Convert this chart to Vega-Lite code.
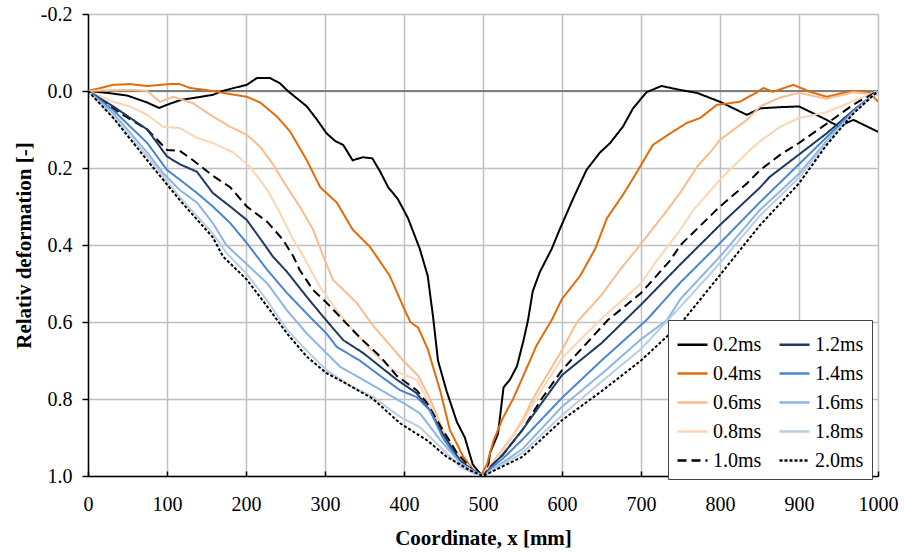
{
"$schema":"https://vega.github.io/schema/vega-lite/v6.json",
"width":790,"height":462,
"autosize":{"type":"none"},
"padding":{"left":88,"top":14,"right":26,"bottom":76},
"background":"white",
"config":{"view":{"stroke":null},"font":"'Liberation Serif', 'Times New Roman', serif"},
"datasets":{"d":[
{"t":"0.2ms","x":0,"y":0},{"t":"0.2ms","x":25,"y":0.005},{"t":"0.2ms","x":50,"y":0.012},{"t":"0.2ms","x":75,"y":0.03},{"t":"0.2ms","x":90,"y":0.044},{"t":"0.2ms","x":105,"y":0.032},{"t":"0.2ms","x":118,"y":0.023},{"t":"0.2ms","x":140,"y":0.016},{"t":"0.2ms","x":158,"y":0.01},{"t":"0.2ms","x":170,"y":0.0},{"t":"0.2ms","x":185,"y":-0.008},{"t":"0.2ms","x":201,"y":-0.016},{"t":"0.2ms","x":214,"y":-0.034},{"t":"0.2ms","x":230,"y":-0.034},{"t":"0.2ms","x":243,"y":-0.02},{"t":"0.2ms","x":253,"y":0.0},{"t":"0.2ms","x":265,"y":0.02},{"t":"0.2ms","x":277,"y":0.04},{"t":"0.2ms","x":290,"y":0.075},{"t":"0.2ms","x":302,"y":0.11},{"t":"0.2ms","x":313,"y":0.13},{"t":"0.2ms","x":323,"y":0.14},{"t":"0.2ms","x":335,"y":0.18},{"t":"0.2ms","x":348,"y":0.172},{"t":"0.2ms","x":360,"y":0.175},{"t":"0.2ms","x":370,"y":0.21},{"t":"0.2ms","x":380,"y":0.25},{"t":"0.2ms","x":392,"y":0.28},{"t":"0.2ms","x":405,"y":0.33},{"t":"0.2ms","x":420,"y":0.41},{"t":"0.2ms","x":430,"y":0.48},{"t":"0.2ms","x":437,"y":0.59},{"t":"0.2ms","x":443,"y":0.70},{"t":"0.2ms","x":454,"y":0.78},{"t":"0.2ms","x":467,"y":0.86},{"t":"0.2ms","x":477,"y":0.90},{"t":"0.2ms","x":487,"y":0.97},{"t":"0.2ms","x":499,"y":1.0},{"t":"0.2ms","x":505,"y":0.995},{"t":"0.2ms","x":509,"y":0.94},{"t":"0.2ms","x":519,"y":0.89},{"t":"0.2ms","x":526,"y":0.77},{"t":"0.2ms","x":534,"y":0.75},{"t":"0.2ms","x":543,"y":0.715},{"t":"0.2ms","x":551,"y":0.65},{"t":"0.2ms","x":557,"y":0.595},{"t":"0.2ms","x":563,"y":0.52},{"t":"0.2ms","x":572,"y":0.47},{"t":"0.2ms","x":587,"y":0.41},{"t":"0.2ms","x":597,"y":0.36},{"t":"0.2ms","x":614,"y":0.28},{"t":"0.2ms","x":631,"y":0.205},{"t":"0.2ms","x":648,"y":0.16},{"t":"0.2ms","x":661,"y":0.135},{"t":"0.2ms","x":677,"y":0.093},{"t":"0.2ms","x":690,"y":0.045},{"t":"0.2ms","x":707,"y":0.003},{"t":"0.2ms","x":726,"y":-0.013},{"t":"0.2ms","x":749,"y":-0.003},{"t":"0.2ms","x":771,"y":0.005},{"t":"0.2ms","x":800,"y":0.028},{"t":"0.2ms","x":834,"y":0.062},{"t":"0.2ms","x":851,"y":0.045},{"t":"0.2ms","x":876,"y":0.042},{"t":"0.2ms","x":900,"y":0.04},{"t":"0.2ms","x":918,"y":0.058},{"t":"0.2ms","x":935,"y":0.075},{"t":"0.2ms","x":950,"y":0.092},{"t":"0.2ms","x":969,"y":0.075},{"t":"0.2ms","x":1000,"y":0.106},
{"t":"0.4ms","x":0,"y":0},{"t":"0.4ms","x":32,"y":-0.016},{"t":"0.4ms","x":53,"y":-0.018},{"t":"0.4ms","x":75,"y":-0.013},{"t":"0.4ms","x":104,"y":-0.018},{"t":"0.4ms","x":116,"y":-0.018},{"t":"0.4ms","x":129,"y":-0.008},{"t":"0.4ms","x":158,"y":0.0},{"t":"0.4ms","x":180,"y":0.008},{"t":"0.4ms","x":201,"y":0.015},{"t":"0.4ms","x":218,"y":0.03},{"t":"0.4ms","x":239,"y":0.066},{"t":"0.4ms","x":256,"y":0.106},{"t":"0.4ms","x":277,"y":0.18},{"t":"0.4ms","x":294,"y":0.25},{"t":"0.4ms","x":315,"y":0.29},{"t":"0.4ms","x":335,"y":0.36},{"t":"0.4ms","x":357,"y":0.405},{"t":"0.4ms","x":382,"y":0.48},{"t":"0.4ms","x":399,"y":0.56},{"t":"0.4ms","x":408,"y":0.60},{"t":"0.4ms","x":418,"y":0.615},{"t":"0.4ms","x":430,"y":0.67},{"t":"0.4ms","x":446,"y":0.78},{"t":"0.4ms","x":458,"y":0.88},{"t":"0.4ms","x":475,"y":0.95},{"t":"0.4ms","x":490,"y":0.99},{"t":"0.4ms","x":497,"y":1.0},{"t":"0.4ms","x":505,"y":0.97},{"t":"0.4ms","x":513,"y":0.91},{"t":"0.4ms","x":525,"y":0.85},{"t":"0.4ms","x":538,"y":0.80},{"t":"0.4ms","x":551,"y":0.74},{"t":"0.4ms","x":568,"y":0.66},{"t":"0.4ms","x":587,"y":0.595},{"t":"0.4ms","x":600,"y":0.54},{"t":"0.4ms","x":623,"y":0.48},{"t":"0.4ms","x":642,"y":0.41},{"t":"0.4ms","x":657,"y":0.33},{"t":"0.4ms","x":677,"y":0.27},{"t":"0.4ms","x":695,"y":0.21},{"t":"0.4ms","x":715,"y":0.14},{"t":"0.4ms","x":737,"y":0.11},{"t":"0.4ms","x":758,"y":0.083},{"t":"0.4ms","x":775,"y":0.07},{"t":"0.4ms","x":796,"y":0.036},{"t":"0.4ms","x":825,"y":0.028},{"t":"0.4ms","x":847,"y":0.003},{"t":"0.4ms","x":855,"y":-0.008},{"t":"0.4ms","x":867,"y":0.002},{"t":"0.4ms","x":893,"y":-0.016},{"t":"0.4ms","x":914,"y":0.002},{"t":"0.4ms","x":935,"y":0.015},{"t":"0.4ms","x":956,"y":0.005},{"t":"0.4ms","x":971,"y":0.0},{"t":"0.4ms","x":990,"y":0.005},{"t":"0.4ms","x":1000,"y":0.028},
{"t":"0.6ms","x":0,"y":0},{"t":"0.6ms","x":32,"y":-0.002},{"t":"0.6ms","x":55,"y":-0.003},{"t":"0.6ms","x":75,"y":0.0},{"t":"0.6ms","x":91,"y":0.028},{"t":"0.6ms","x":108,"y":0.015},{"t":"0.6ms","x":133,"y":0.032},{"t":"0.6ms","x":158,"y":0.066},{"t":"0.6ms","x":180,"y":0.093},{"t":"0.6ms","x":201,"y":0.114},{"t":"0.6ms","x":218,"y":0.145},{"t":"0.6ms","x":234,"y":0.19},{"t":"0.6ms","x":252,"y":0.25},{"t":"0.6ms","x":268,"y":0.30},{"t":"0.6ms","x":285,"y":0.36},{"t":"0.6ms","x":298,"y":0.43},{"t":"0.6ms","x":310,"y":0.49},{"t":"0.6ms","x":325,"y":0.52},{"t":"0.6ms","x":340,"y":0.55},{"t":"0.6ms","x":361,"y":0.61},{"t":"0.6ms","x":378,"y":0.65},{"t":"0.6ms","x":399,"y":0.70},{"t":"0.6ms","x":418,"y":0.74},{"t":"0.6ms","x":433,"y":0.80},{"t":"0.6ms","x":449,"y":0.88},{"t":"0.6ms","x":467,"y":0.94},{"t":"0.6ms","x":486,"y":0.99},{"t":"0.6ms","x":499,"y":1.0},{"t":"0.6ms","x":510,"y":0.97},{"t":"0.6ms","x":525,"y":0.93},{"t":"0.6ms","x":536,"y":0.90},{"t":"0.6ms","x":550,"y":0.855},{"t":"0.6ms","x":563,"y":0.80},{"t":"0.6ms","x":600,"y":0.673},{"t":"0.6ms","x":619,"y":0.60},{"t":"0.6ms","x":650,"y":0.53},{"t":"0.6ms","x":675,"y":0.46},{"t":"0.6ms","x":695,"y":0.41},{"t":"0.6ms","x":733,"y":0.31},{"t":"0.6ms","x":750,"y":0.263},{"t":"0.6ms","x":771,"y":0.197},{"t":"0.6ms","x":790,"y":0.153},{"t":"0.6ms","x":800,"y":0.127},{"t":"0.6ms","x":834,"y":0.075},{"t":"0.6ms","x":851,"y":0.04},{"t":"0.6ms","x":876,"y":0.017},{"t":"0.6ms","x":900,"y":0.005},{"t":"0.6ms","x":935,"y":0.02},{"t":"0.6ms","x":969,"y":0.003},{"t":"0.6ms","x":1000,"y":0.01},
{"t":"0.8ms","x":0,"y":0},{"t":"0.8ms","x":32,"y":0.028},{"t":"0.8ms","x":53,"y":0.04},{"t":"0.8ms","x":75,"y":0.062},{"t":"0.8ms","x":95,"y":0.093},{"t":"0.8ms","x":116,"y":0.096},{"t":"0.8ms","x":138,"y":0.122},{"t":"0.8ms","x":158,"y":0.135},{"t":"0.8ms","x":184,"y":0.16},{"t":"0.8ms","x":205,"y":0.197},{"t":"0.8ms","x":227,"y":0.257},{"t":"0.8ms","x":243,"y":0.317},{"t":"0.8ms","x":260,"y":0.387},{"t":"0.8ms","x":270,"y":0.42},{"t":"0.8ms","x":294,"y":0.51},{"t":"0.8ms","x":315,"y":0.57},{"t":"0.8ms","x":335,"y":0.62},{"t":"0.8ms","x":361,"y":0.68},{"t":"0.8ms","x":386,"y":0.725},{"t":"0.8ms","x":416,"y":0.75},{"t":"0.8ms","x":429,"y":0.80},{"t":"0.8ms","x":446,"y":0.87},{"t":"0.8ms","x":467,"y":0.94},{"t":"0.8ms","x":487,"y":0.985},{"t":"0.8ms","x":500,"y":1.0},{"t":"0.8ms","x":510,"y":0.97},{"t":"0.8ms","x":525,"y":0.935},{"t":"0.8ms","x":550,"y":0.86},{"t":"0.8ms","x":567,"y":0.80},{"t":"0.8ms","x":600,"y":0.694},{"t":"0.8ms","x":648,"y":0.595},{"t":"0.8ms","x":700,"y":0.50},{"t":"0.8ms","x":720,"y":0.44},{"t":"0.8ms","x":750,"y":0.36},{"t":"0.8ms","x":766,"y":0.31},{"t":"0.8ms","x":800,"y":0.23},{"t":"0.8ms","x":838,"y":0.153},{"t":"0.8ms","x":851,"y":0.13},{"t":"0.8ms","x":876,"y":0.093},{"t":"0.8ms","x":900,"y":0.07},{"t":"0.8ms","x":935,"y":0.055},{"t":"0.8ms","x":969,"y":0.026},{"t":"0.8ms","x":1000,"y":0.0},
{"t":"1.0ms","x":0,"y":0},{"t":"1.0ms","x":41,"y":0.058},{"t":"1.0ms","x":75,"y":0.10},{"t":"1.0ms","x":100,"y":0.153},{"t":"1.0ms","x":116,"y":0.155},{"t":"1.0ms","x":133,"y":0.18},{"t":"1.0ms","x":158,"y":0.22},{"t":"1.0ms","x":180,"y":0.25},{"t":"1.0ms","x":201,"y":0.30},{"t":"1.0ms","x":227,"y":0.34},{"t":"1.0ms","x":247,"y":0.387},{"t":"1.0ms","x":260,"y":0.43},{"t":"1.0ms","x":268,"y":0.465},{"t":"1.0ms","x":285,"y":0.517},{"t":"1.0ms","x":302,"y":0.55},{"t":"1.0ms","x":323,"y":0.595},{"t":"1.0ms","x":344,"y":0.64},{"t":"1.0ms","x":370,"y":0.69},{"t":"1.0ms","x":391,"y":0.74},{"t":"1.0ms","x":416,"y":0.777},{"t":"1.0ms","x":429,"y":0.81},{"t":"1.0ms","x":446,"y":0.87},{"t":"1.0ms","x":467,"y":0.94},{"t":"1.0ms","x":487,"y":0.985},{"t":"1.0ms","x":500,"y":1.0},{"t":"1.0ms","x":510,"y":0.975},{"t":"1.0ms","x":525,"y":0.945},{"t":"1.0ms","x":550,"y":0.88},{"t":"1.0ms","x":574,"y":0.80},{"t":"1.0ms","x":600,"y":0.725},{"t":"1.0ms","x":658,"y":0.595},{"t":"1.0ms","x":700,"y":0.525},{"t":"1.0ms","x":737,"y":0.44},{"t":"1.0ms","x":750,"y":0.40},{"t":"1.0ms","x":800,"y":0.30},{"t":"1.0ms","x":834,"y":0.24},{"t":"1.0ms","x":851,"y":0.205},{"t":"1.0ms","x":876,"y":0.166},{"t":"1.0ms","x":900,"y":0.135},{"t":"1.0ms","x":935,"y":0.085},{"t":"1.0ms","x":969,"y":0.035},{"t":"1.0ms","x":1000,"y":0.0},
{"t":"1.2ms","x":0,"y":0},{"t":"1.2ms","x":32,"y":0.04},{"t":"1.2ms","x":75,"y":0.10},{"t":"1.2ms","x":100,"y":0.17},{"t":"1.2ms","x":116,"y":0.19},{"t":"1.2ms","x":138,"y":0.21},{"t":"1.2ms","x":158,"y":0.265},{"t":"1.2ms","x":180,"y":0.30},{"t":"1.2ms","x":201,"y":0.335},{"t":"1.2ms","x":222,"y":0.395},{"t":"1.2ms","x":234,"y":0.43},{"t":"1.2ms","x":252,"y":0.47},{"t":"1.2ms","x":277,"y":0.535},{"t":"1.2ms","x":298,"y":0.587},{"t":"1.2ms","x":323,"y":0.647},{"t":"1.2ms","x":348,"y":0.68},{"t":"1.2ms","x":370,"y":0.716},{"t":"1.2ms","x":391,"y":0.75},{"t":"1.2ms","x":416,"y":0.785},{"t":"1.2ms","x":433,"y":0.83},{"t":"1.2ms","x":449,"y":0.89},{"t":"1.2ms","x":471,"y":0.96},{"t":"1.2ms","x":490,"y":0.99},{"t":"1.2ms","x":502,"y":1.0},{"t":"1.2ms","x":510,"y":0.975},{"t":"1.2ms","x":525,"y":0.945},{"t":"1.2ms","x":550,"y":0.88},{"t":"1.2ms","x":578,"y":0.80},{"t":"1.2ms","x":600,"y":0.738},{"t":"1.2ms","x":650,"y":0.655},{"t":"1.2ms","x":680,"y":0.595},{"t":"1.2ms","x":700,"y":0.555},{"t":"1.2ms","x":750,"y":0.45},{"t":"1.2ms","x":800,"y":0.348},{"t":"1.2ms","x":851,"y":0.25},{"t":"1.2ms","x":863,"y":0.223},{"t":"1.2ms","x":900,"y":0.165},{"t":"1.2ms","x":935,"y":0.11},{"t":"1.2ms","x":969,"y":0.05},{"t":"1.2ms","x":1000,"y":0.0},
{"t":"1.4ms","x":0,"y":0},{"t":"1.4ms","x":32,"y":0.05},{"t":"1.4ms","x":75,"y":0.135},{"t":"1.4ms","x":100,"y":0.205},{"t":"1.4ms","x":116,"y":0.23},{"t":"1.4ms","x":138,"y":0.265},{"t":"1.4ms","x":158,"y":0.30},{"t":"1.4ms","x":180,"y":0.343},{"t":"1.4ms","x":201,"y":0.395},{"t":"1.4ms","x":227,"y":0.465},{"t":"1.4ms","x":252,"y":0.525},{"t":"1.4ms","x":281,"y":0.587},{"t":"1.4ms","x":302,"y":0.63},{"t":"1.4ms","x":315,"y":0.665},{"t":"1.4ms","x":344,"y":0.70},{"t":"1.4ms","x":370,"y":0.74},{"t":"1.4ms","x":395,"y":0.777},{"t":"1.4ms","x":416,"y":0.795},{"t":"1.4ms","x":433,"y":0.83},{"t":"1.4ms","x":449,"y":0.90},{"t":"1.4ms","x":471,"y":0.966},{"t":"1.4ms","x":490,"y":0.99},{"t":"1.4ms","x":502,"y":1.0},{"t":"1.4ms","x":510,"y":0.98},{"t":"1.4ms","x":525,"y":0.955},{"t":"1.4ms","x":550,"y":0.905},{"t":"1.4ms","x":600,"y":0.797},{"t":"1.4ms","x":650,"y":0.70},{"t":"1.4ms","x":707,"y":0.595},{"t":"1.4ms","x":750,"y":0.497},{"t":"1.4ms","x":800,"y":0.395},{"t":"1.4ms","x":850,"y":0.29},{"t":"1.4ms","x":900,"y":0.19},{"t":"1.4ms","x":935,"y":0.12},{"t":"1.4ms","x":969,"y":0.052},{"t":"1.4ms","x":1000,"y":0.0},
{"t":"1.6ms","x":0,"y":0},{"t":"1.6ms","x":32,"y":0.058},{"t":"1.6ms","x":75,"y":0.16},{"t":"1.6ms","x":95,"y":0.213},{"t":"1.6ms","x":116,"y":0.257},{"t":"1.6ms","x":138,"y":0.29},{"t":"1.6ms","x":158,"y":0.343},{"t":"1.6ms","x":175,"y":0.40},{"t":"1.6ms","x":201,"y":0.45},{"t":"1.6ms","x":227,"y":0.50},{"t":"1.6ms","x":252,"y":0.57},{"t":"1.6ms","x":277,"y":0.63},{"t":"1.6ms","x":298,"y":0.673},{"t":"1.6ms","x":319,"y":0.716},{"t":"1.6ms","x":348,"y":0.75},{"t":"1.6ms","x":378,"y":0.785},{"t":"1.6ms","x":399,"y":0.81},{"t":"1.6ms","x":420,"y":0.837},{"t":"1.6ms","x":446,"y":0.907},{"t":"1.6ms","x":471,"y":0.966},{"t":"1.6ms","x":490,"y":0.99},{"t":"1.6ms","x":502,"y":1.0},{"t":"1.6ms","x":510,"y":0.985},{"t":"1.6ms","x":525,"y":0.965},{"t":"1.6ms","x":550,"y":0.93},{"t":"1.6ms","x":600,"y":0.82},{"t":"1.6ms","x":650,"y":0.735},{"t":"1.6ms","x":700,"y":0.645},{"t":"1.6ms","x":733,"y":0.595},{"t":"1.6ms","x":750,"y":0.54},{"t":"1.6ms","x":800,"y":0.43},{"t":"1.6ms","x":850,"y":0.31},{"t":"1.6ms","x":900,"y":0.215},{"t":"1.6ms","x":935,"y":0.13},{"t":"1.6ms","x":969,"y":0.055},{"t":"1.6ms","x":1000,"y":0.0},
{"t":"1.8ms","x":0,"y":0},{"t":"1.8ms","x":32,"y":0.067},{"t":"1.8ms","x":75,"y":0.17},{"t":"1.8ms","x":116,"y":0.275},{"t":"1.8ms","x":158,"y":0.37},{"t":"1.8ms","x":175,"y":0.42},{"t":"1.8ms","x":201,"y":0.475},{"t":"1.8ms","x":227,"y":0.545},{"t":"1.8ms","x":252,"y":0.62},{"t":"1.8ms","x":277,"y":0.675},{"t":"1.8ms","x":302,"y":0.725},{"t":"1.8ms","x":327,"y":0.76},{"t":"1.8ms","x":361,"y":0.795},{"t":"1.8ms","x":395,"y":0.846},{"t":"1.8ms","x":420,"y":0.873},{"t":"1.8ms","x":446,"y":0.925},{"t":"1.8ms","x":471,"y":0.976},{"t":"1.8ms","x":490,"y":0.995},{"t":"1.8ms","x":502,"y":1.0},{"t":"1.8ms","x":510,"y":0.988},{"t":"1.8ms","x":525,"y":0.97},{"t":"1.8ms","x":550,"y":0.94},{"t":"1.8ms","x":600,"y":0.842},{"t":"1.8ms","x":650,"y":0.755},{"t":"1.8ms","x":700,"y":0.67},{"t":"1.8ms","x":750,"y":0.56},{"t":"1.8ms","x":800,"y":0.447},{"t":"1.8ms","x":850,"y":0.325},{"t":"1.8ms","x":900,"y":0.225},{"t":"1.8ms","x":935,"y":0.135},{"t":"1.8ms","x":969,"y":0.057},{"t":"1.8ms","x":1000,"y":0.0},
{"t":"2.0ms","x":0,"y":0},{"t":"2.0ms","x":32,"y":0.07},{"t":"2.0ms","x":75,"y":0.18},{"t":"2.0ms","x":116,"y":0.283},{"t":"2.0ms","x":158,"y":0.38},{"t":"2.0ms","x":171,"y":0.43},{"t":"2.0ms","x":201,"y":0.49},{"t":"2.0ms","x":227,"y":0.56},{"t":"2.0ms","x":252,"y":0.63},{"t":"2.0ms","x":277,"y":0.69},{"t":"2.0ms","x":302,"y":0.733},{"t":"2.0ms","x":327,"y":0.76},{"t":"2.0ms","x":361,"y":0.80},{"t":"2.0ms","x":395,"y":0.863},{"t":"2.0ms","x":429,"y":0.907},{"t":"2.0ms","x":454,"y":0.95},{"t":"2.0ms","x":483,"y":0.985},{"t":"2.0ms","x":500,"y":1.0},{"t":"2.0ms","x":510,"y":0.99},{"t":"2.0ms","x":525,"y":0.975},{"t":"2.0ms","x":550,"y":0.95},{"t":"2.0ms","x":600,"y":0.855},{"t":"2.0ms","x":650,"y":0.78},{"t":"2.0ms","x":700,"y":0.70},{"t":"2.0ms","x":750,"y":0.605},{"t":"2.0ms","x":800,"y":0.478},{"t":"2.0ms","x":850,"y":0.35},{"t":"2.0ms","x":900,"y":0.24},{"t":"2.0ms","x":935,"y":0.14},{"t":"2.0ms","x":969,"y":0.058},{"t":"2.0ms","x":1000,"y":0.0}
]},
"layer":[
{"data":{"values":[{}]},
 "mark":{"type":"rule","color":"#7f7f7f","strokeWidth":2},
 "encoding":{"y":{"datum":0,"type":"quantitative"}}},
{"data":{"name":"d"},
 "mark":{"type":"line","strokeWidth":2,"clip":true},
 "encoding":{
  "x":{"field":"x","type":"quantitative",
   "scale":{"domain":[0,1000],"nice":false,"zero":false},
   "axis":{"values":[0,100,200,300,400,500,600,700,800,900,1000],"format":"d",
    "title":"Coordinate, x [mm]","titleFont":"'Liberation Serif', 'Times New Roman', serif","titleFontSize":21,"titleFontWeight":"bold","titleColor":"black","titlePadding":13,
    "labelFont":"'Liberation Serif', 'Times New Roman', serif","labelFontSize":20,"labelColor":"black","labelPadding":23,"labelFlush":false,
    "grid":true,"gridColor":"#c0c0c0","gridWidth":1.5,
    "domainColor":"black","domainWidth":1.5,"tickColor":"black","tickSize":-5,"tickWidth":1.5}},
  "y":{"field":"y","type":"quantitative",
   "scale":{"domain":[-0.2,1.0],"nice":false,"zero":false,"reverse":true},
   "axis":{"values":[-0.2,0,0.2,0.4,0.6,0.8,1.0],
    "labelExpr":"datum.value < -0.01 ? '-' + format(-datum.value, '.1f') : format(abs(datum.value), '.1f')",
    "title":"Relativ deformation [-]","titleFont":"'Liberation Serif', 'Times New Roman', serif","titleFontSize":21,"titleFontWeight":"bold","titleColor":"black","titlePadding":6,
    "labelFont":"'Liberation Serif', 'Times New Roman', serif","labelFontSize":20,"labelColor":"black","labelPadding":10,
    "grid":true,"gridColor":"#c0c0c0","gridWidth":1.5,
    "domainColor":"black","domainWidth":1.5,"tickColor":"black","tickSize":6,"tickWidth":1.5}},
  "color":{"field":"t","type":"nominal",
   "scale":{"domain":["0.2ms","0.4ms","0.6ms","0.8ms","1.0ms","1.2ms","1.4ms","1.6ms","1.8ms","2.0ms"],
     "range":["#000000","#e36c0a","#f9bc8c","#fcd5b5","#000000","#1f3a60","#4a86d0","#8eb4e3","#b9cde5","#000000"]},
   "legend":{"title":null,"orient":"none","legendX":580,"legendY":306,"columns":2,"columnPadding":12,"rowPadding":2,
     "symbolType":"stroke","symbolSize":900,"symbolStrokeWidth":2.5,"labelOffset":4,
     "labelFont":"'Liberation Serif', 'Times New Roman', serif","labelFontSize":20,"labelColor":"black",
     "strokeColor":"#444444","fillColor":"white","padding":8}},
  "strokeDash":{"field":"t","type":"nominal",
   "scale":{"domain":["0.2ms","0.4ms","0.6ms","0.8ms","1.0ms","1.2ms","1.4ms","1.6ms","1.8ms","2.0ms"],
     "range":[[1,0],[1,0],[1,0],[1,0],[9,5],[1,0],[1,0],[1,0],[1,0],[3,2]]},
   "legend":{"title":null,"orient":"none","legendX":580,"legendY":306,"columns":2}}
 }}
]
}
